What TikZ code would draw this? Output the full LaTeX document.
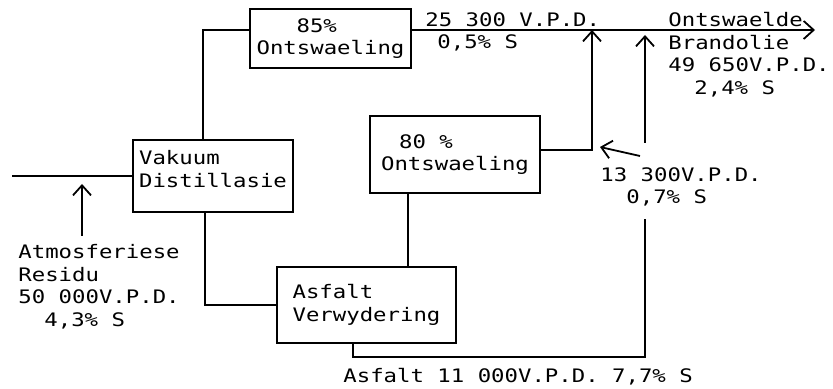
\documentclass[tikz,border=0pt]{standalone}
\usepackage{fontspec}
\usetikzlibrary{arrows.meta}
\newfontfamily\tw[FakeStretch=1.2]{DejaVu Sans Mono}
\newcommand{\twsize}{\tw\fontsize{9.3}{11.3}\selectfont}

\tikzset{
    unitbox/.style={draw, line width=0.9pt, inner sep=0pt, font=\twsize},
    flowlabel/.style={inner sep=0pt, font=\twsize, align=left},
    flow/.style={line width=0.9pt},
}

\begin{document}
\begin{tikzpicture}[x=0.5pt, y=-0.5pt, >={Straight Barb[length=5pt,width=9pt]}]
    \useasboundingbox (0,0) rectangle (833,389);

    % process units
    \node[unitbox, minimum width=80pt, minimum height=36pt, align=left] (vak) at (213,176) {Vakuum\\Distillasie\\[-4pt]};
    \node[unitbox, minimum width=80.5pt, minimum height=29.5pt, align=left] (ont85) at (330.5,38.5) {\hspace*{20pt}85\%\\Ontswaeling};
    \node[unitbox, minimum width=85pt, minimum height=38.5pt, align=left] (ont80) at (455,154.5) {\hspace*{9pt}80 \%\\Ontswaeling};
    \node[unitbox, minimum width=89.5pt, minimum height=38pt, align=left] (asf) at (366.5,305) {Asfalt\\Verwydering};

    % stream labels
    \node[flowlabel, anchor=north west] (lbl25) at (425,12) {25 300 V.P.D.\\\hspace*{6pt}0,5\% S};
    \node[flowlabel, anchor=north west] (prod) at (668,12) {Ontswaelde\\Brandolie\\49 650V.P.D.\\\hspace*{13pt}2,4\% S};
    \node[flowlabel, anchor=north west] (lbl13) at (600,167) {13 300V.P.D.\\\hspace*{13pt}0,7\% S};
    \node[flowlabel, anchor=north west] (feed) at (18,244) {Atmosferiese\\Residu\\50 000V.P.D.\\\hspace*{13pt}4,3\% S};
    \node[flowlabel, anchor=base west] (asflbl) at (343,382) {Asfalt 11 000V.P.D. 7,7\% S};

    % free ends
    \coordinate (inlet) at (12,176);
    \coordinate (outlet) at (815,30);
    \coordinate (j80) at (592,30);
    \coordinate (jasf) at (645,35);
    \coordinate (feedtip) at (82,184);
    \coordinate (tip13) at (600,147);

    % streams
    \draw[flow] (inlet) -- (vak.west);
    \draw[flow] ([xshift=-5pt]vak.north) |- ([yshift=4.25pt]ont85.west);
    \draw[flow, ->] ([yshift=4.25pt]ont85.east) -- (outlet);
    \draw[flow, ->] ([yshift=2.25pt]ont80.east) -| (j80);
    \draw[flow] ([xshift=-4pt]vak.south) |- (asf.west);
    \draw[flow] ([xshift=-23.5pt]ont80.south) -- ([xshift=-23.5pt]ont80.south |- asf.north);
    \draw[flow] ([xshift=-6.75pt]asf.south) -- ++(0,13) -| ([yshift=-6pt]lbl13.south -| jasf);
    \draw[flow, ->] ([yshift=12pt]lbl13.north -| jasf) -- (jasf);
    \draw[flow, ->, shorten <=4pt] (feed.north -| feedtip) -- (feedtip);
    \draw[flow, ->] ([xshift=20pt, yshift=5.5pt]lbl13.north west) -- (tip13);
\end{tikzpicture}
\end{document}
